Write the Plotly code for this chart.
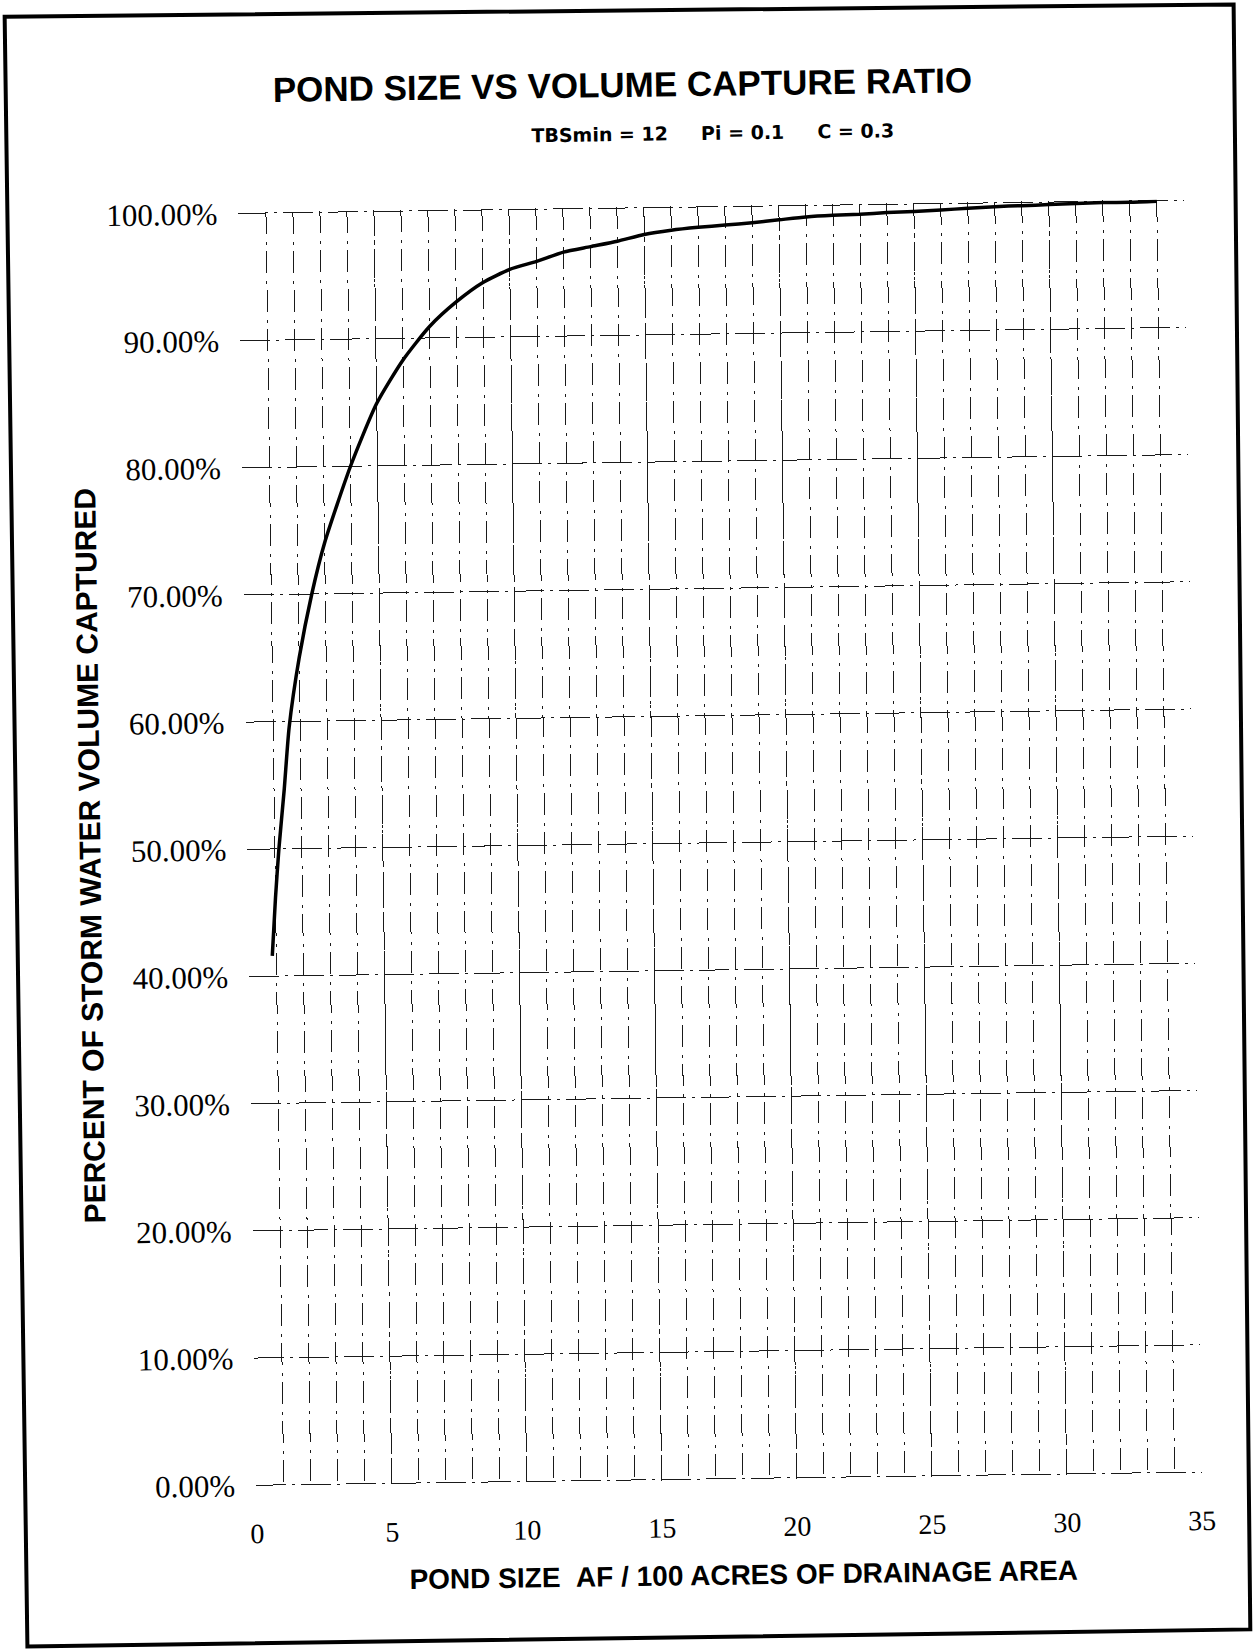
import plotly.graph_objects as go

# ---- data ----
pond_size = [0.85, 1.0, 1.15, 1.38, 1.59, 2.0, 2.5, 3.0, 4.0, 5.0, 6.0, 7.0, 8.0, 9.0, 10.0,
             11.0, 12.0, 13.0, 14.0, 15.0, 16.0, 17.0, 18.0, 19.0, 20.0, 21.0, 22.0, 23.0,
             24.0, 25.0, 26.0, 27.0, 28.0, 29.0, 30.0, 31.0, 32.0, 33.0, 34.0]
capture_pct = [41.6, 46.2, 50.0, 54.7, 59.5, 65.0, 70.0, 74.0, 80.0, 84.9, 88.3, 90.9, 92.8,
               94.3, 95.3, 95.9, 96.6, 97.0, 97.4, 97.9, 98.2, 98.4, 98.55, 98.7, 98.9, 99.1,
               99.2, 99.25, 99.35, 99.4, 99.5, 99.6, 99.7, 99.75, 99.8, 99.85, 99.9, 99.9, 99.95]
x_ticks = [0, 5, 10, 15, 20, 25, 30, 35]
y_ticks = [0.0, 0.1, 0.2, 0.3, 0.4, 0.5, 0.6, 0.7, 0.8, 0.9, 1.0]

title_text = "POND SIZE VS VOLUME CAPTURE RATIO"
gap = "&nbsp;" * 5
subtitle_text = "TBSmin = 12" + gap + "Pi = 0.1" + gap + "C = 0.3"
x_title = "POND SIZE&nbsp;&nbsp;AF / 100 ACRES OF DRAINAGE AREA"
y_title = "PERCENT OF STORM WATER VOLUME CAPTURED"

W, H = 1256, 1649
L, R, T, B = 247, 63, 207, 168
PW, PH = W - L - R, H - T - B
SCAN_TILT_DEG = 0.8  # the scanned page is slightly rotated counter-clockwise


def px(xp):
    return (xp - L) / PW


def py(yp):
    return (H - B - yp) / PH


fig = go.Figure()
fig.add_trace(go.Scatter(
    x=pond_size, y=[v / 100 for v in capture_pct], mode="lines",
    line=dict(color="black", width=3.5, shape="spline", smoothing=0.6),
    showlegend=False, hoverinfo="skip"))

grid_col = "#1a1a1a"
fig.update_xaxes(
    range=[-0.02, 35.02], tickvals=x_ticks, ticktext=[str(v) for v in x_ticks],
    showgrid=True, gridcolor=grid_col, gridwidth=1.4, griddash="26px,6px,3px,7px",
    minor=dict(dtick=1, showgrid=True, gridcolor=grid_col, gridwidth=1.4,
               griddash="22px,8px,3px,6px"),
    zeroline=False, showline=False, ticks="",
    tickfont=dict(family="Liberation Serif", size=28, color="black"),
    ticklabelstandoff=28)
fig.update_yaxes(
    range=[-0.0008, 1.0008], tickvals=y_ticks, tickformat=".2%",
    showgrid=True, gridcolor=grid_col, gridwidth=1.4, griddash="30px,6px,3px,6px",
    zeroline=False, showline=False, ticks="",
    tickfont=dict(family="Liberation Serif", size=31, color="black"),
    ticklabelstandoff=20)

ann_font = dict(family="Liberation Sans", color="black")
fig.add_annotation(text="<b>" + title_text + "</b>", xref="paper", yref="paper",
                   x=px(632), y=py(85), xanchor="center", yanchor="middle",
                   showarrow=False, font=dict(size=35, **ann_font))
fig.add_annotation(text="<b>" + subtitle_text + "</b>", xref="paper", yref="paper",
                   x=px(722), y=py(134), xanchor="center", yanchor="middle",
                   showarrow=False, font=dict(size=19, family="DejaVu Sans", color="black"))
fig.add_annotation(text="<b>" + x_title + "</b>", xref="paper", yref="paper",
                   x=px(733), y=py(1576), xanchor="center", yanchor="middle",
                   showarrow=False, font=dict(size=28, **ann_font))
fig.add_annotation(text="<b>" + y_title + "</b>", xref="paper", yref="paper",
                   x=px(89), y=py(848), xanchor="center", yanchor="middle",
                   textangle=-90, showarrow=False, font=dict(size=30, **ann_font))

# outer frame of the scanned page
corners = [(16, 8), (1245, 13), (1239, 1638), (16, 1638)]
path = "M " + " L ".join(f"{px(a):.5f},{py(b):.5f}" for a, b in corners) + " Z"
fig.add_shape(type="path", path=path, xref="paper", yref="paper",
              line=dict(color="black", width=4), fillcolor="rgba(0,0,0,0)", layer="above")

fig.update_layout(
    width=W, height=H, autosize=False,
    margin=dict(l=L, r=R, t=T, b=B, pad=0),
    paper_bgcolor="white", plot_bgcolor="white",
    showlegend=False)

post = (
    "document.body.style.margin='0';"
    "document.body.style.overflow='hidden';"
    "document.documentElement.style.overflow='hidden';"
    "var gd=document.getElementById('{plot_id}');"
    "gd.style.transformOrigin='50% 50%';"
    f"gd.style.transform='rotate(-{SCAN_TILT_DEG}deg)';"
)
fig.write_html("out.html", config={"displayModeBar": False}, post_script=post)
